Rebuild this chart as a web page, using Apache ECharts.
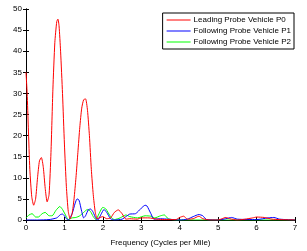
<!DOCTYPE html>
<html><head><meta charset="utf-8">
<script src="https://cdn.jsdelivr.net/npm/echarts@6/dist/echarts.min.js"></script>
<style>html,body{margin:0;padding:0;background:#fff}#c{width:307px;height:251px}</style>
</head><body><div id="c"></div>
<script>
const seriesNames = ['Leading Probe Vehicle P0','Following Probe Vehicle P1','Following Probe Vehicle P2'];
const xTicks = [0,1,2,3,4,5,6,7];
const yTicks = [0,5,10,15,20,25,30,35,40,45,50];
const p0 = [[0,35],[0.03,30],[0.06,22],[0.1,12],[0.15,5.5],[0.2,3.5],[0.25,5],[0.3,10],[0.35,14],[0.4,14.8],[0.45,12.5],[0.5,7.5],[0.55,4.3],[0.6,6],[0.65,16],[0.7,31],[0.75,42],[0.8,47],[0.83,47.6],[0.86,46],[0.9,40],[0.95,30],[1.0,18],[1.05,8],[1.1,2],[1.15,0.3],[1.2,1.5],[1.25,5],[1.3,10],[1.35,16],[1.4,22],[1.45,26.5],[1.5,28.5],[1.55,28.7],[1.6,26],[1.65,20],[1.7,12],[1.75,6],[1.8,2],[1.85,0.3],[1.9,0.5],[2.0,0.8],[2.1,0.3],[2.2,0.5],[2.3,1.8],[2.4,2.4],[2.5,1.5],[2.6,0.2],[2.7,0.3],[2.9,0.2],[3.0,0.5],[3.2,0.5],[3.4,0.2],[3.6,0.1],[3.9,0.1],[4.0,0.6],[4.1,0.9],[4.2,0.2],[4.35,0.3],[4.5,0.9],[4.6,0.3],[4.8,0],[5.0,0],[5.1,0.3],[5.2,0.6],[5.3,0.3],[5.5,0],[5.7,0.2],[5.9,0.5],[6.0,0.7],[6.2,0.6],[6.4,0.2],[6.6,0.1],[7,0]];
const p1 = [[0,0],[0.3,0],[0.6,0.1],[0.8,0.5],[0.9,1.3],[0.95,1.4],[1.0,1.0],[1.05,0.3],[1.1,0],[1.2,1.5],[1.28,4],[1.33,5],[1.38,4.7],[1.45,2],[1.5,0.5],[1.55,1],[1.62,2.4],[1.68,2.6],[1.75,1.8],[1.82,0.3],[1.87,0],[1.95,1.3],[2.03,2.5],[2.1,1.8],[2.2,0.3],[2.3,0],[2.5,0.2],[2.6,0.8],[2.7,1.4],[2.85,1.5],[3.0,2.8],[3.1,3.5],[3.15,3.3],[3.25,1.5],[3.33,0.2],[3.5,0.3],[3.7,0.2],[4.0,0],[4.2,0.2],[4.35,0.8],[4.5,1.3],[4.6,1.0],[4.7,0.1],[5.0,0],[5.2,0.3],[5.35,0.6],[5.5,0.2],[6.0,0.1],[6.3,0.5],[6.45,0.6],[6.6,0.2],[7,0]];
const p2 = [[0,0.5],[0.08,1.2],[0.16,1.5],[0.25,0.7],[0.32,0.7],[0.42,1.5],[0.5,1.8],[0.6,1.0],[0.68,1.0],[0.78,2.3],[0.88,3.2],[0.95,2.5],[1.05,0.8],[1.1,0.1],[1.2,0.5],[1.3,0.6],[1.4,1.0],[1.5,1.8],[1.6,2.5],[1.68,2.0],[1.75,0.8],[1.82,0.1],[1.9,1.5],[2.0,3.0],[2.08,2.6],[2.2,0.8],[2.3,0.1],[2.45,0.5],[2.6,1.2],[2.7,0.8],[2.9,0.5],[3.1,1.0],[3.25,0.9],[3.35,0.5],[3.5,1.0],[3.6,1.2],[3.7,0.3],[3.9,0],[7,0]];

const colors = ['#ff0000','#0000ff','#00ff00'];
const font = 'Liberation Sans, Arial, sans-serif';
const chart = echarts.init(document.getElementById('c'));
const axisCommon = {
  axisLine:{lineStyle:{color:'#000',width:1}},
  axisTick:{inside:true,length:3,lineStyle:{color:'#000'}},
  splitLine:{show:false}
};
chart.setOption({
  animation:false,
  grid:{left:26,right:12,top:9,bottom:31,containLabel:false,outerBoundsMode:'none'},
  legend:{
    data:seriesNames, orient:'vertical', right:13, top:13,
    backgroundColor:'#fff', borderColor:'#000', borderWidth:1,
    padding:[3,3,3,4], itemGap:3, itemWidth:24, itemHeight:1,
    icon:'rect',
    textStyle:{fontFamily:font,fontSize:8,color:'#000',padding:[0,0,0,-2]}
  },
  xAxis:[
    Object.assign({type:'value',min:0,max:7,interval:1,position:'bottom',
      name:'Frequency (Cycles per Mile)',nameLocation:'middle',nameGap:19,
      nameTextStyle:{fontFamily:font,fontSize:8,color:'#000'},
      axisLabel:{fontFamily:font,fontSize:8,color:'#000',margin:4,
        formatter:v=>xTicks.includes(v)?String(v):''}},axisCommon),
    Object.assign({type:'value',min:0,max:7,interval:1,position:'top',axisLabel:{show:false}},axisCommon)
  ],
  yAxis:[
    Object.assign({type:'value',min:0,max:50,interval:5,position:'left',
      name:'Nomalized Power',nameLocation:'middle',nameGap:16,
      nameTextStyle:{fontFamily:font,fontSize:8,color:'#000'},
      axisLabel:{fontFamily:font,fontSize:8,color:'#000',margin:4,
        formatter:v=>yTicks.includes(v)?String(v):''}},axisCommon),
    Object.assign({type:'value',min:0,max:50,interval:5,position:'right',axisLabel:{show:false}},axisCommon)
  ],
  series:[p0,p1,p2].map((d,i)=>({
    name:seriesNames[i], type:'line', data:d, showSymbol:false, symbol:'none',
    smooth:0.2, color:colors[i], lineStyle:{width:1,color:colors[i]}, z:3-i
  }))
});
</script></body></html>
